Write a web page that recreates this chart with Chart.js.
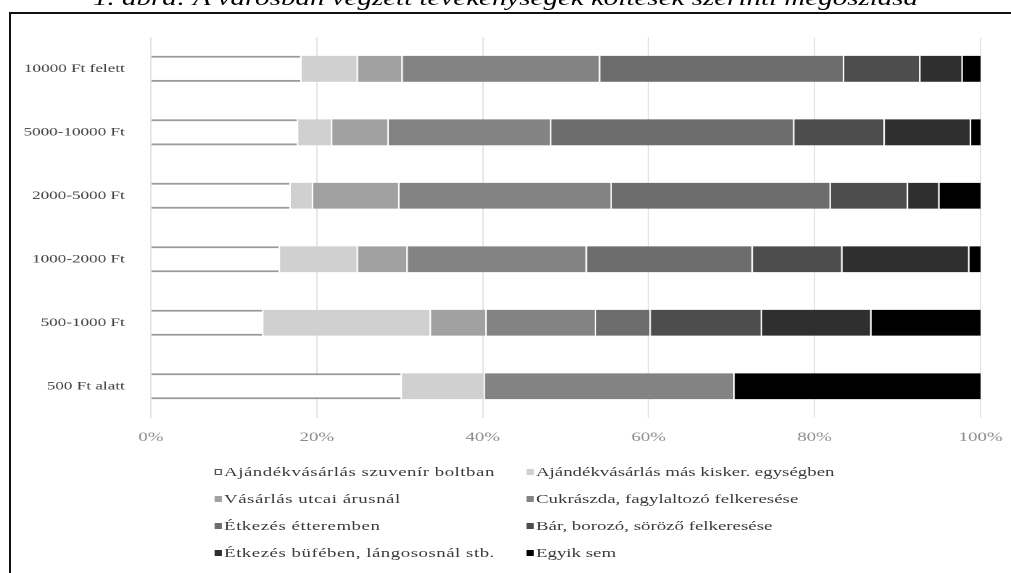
<!DOCTYPE html>
<html lang="hu">
<head>
<meta charset="utf-8">
<title>Tevékenységek költés szerint</title>
<script src="https://cdn.jsdelivr.net/npm/chart.js@4.4.1/dist/chart.umd.min.js"></script>
<style>
    html, body { margin: 0; padding: 0; background: #fff; }
    body { width: 1011px; height: 573px; overflow: hidden; position: relative; font-family: 'Liberation Serif', 'Times New Roman', serif; }
    /* the source picture is stretched sideways, so the whole figure is drawn narrow and scaled */
    #fig { position: absolute; left: 0; top: 0; width: 697px; height: 573px; transform: scaleX(1.4505); transform-origin: 0 0; }
    #frame { position: absolute; left: 9px; top: 12px; width: 1100px; height: 700px; border-top: 2px solid #111; border-left: 2px solid #111; }
    #title { position: absolute; left: 0; width: 697px; top: -12px; text-align: center; font-style: italic; font-size: 20px; line-height: 20px; color: #000; white-space: nowrap; }
    #chart-wrap { position: absolute; left: 0; top: 20px; width: 697px; height: 440px; }
    .lg-item { position: absolute; display: flex; align-items: center; font-size: 13px; color: #3a3a3a; white-space: nowrap; height: 16px; }
    .lg-item.left { letter-spacing: 0.35px; }
    .lg-box { width: 4.5px; height: 6px; margin-right: 2px; box-sizing: border-box; }
</style>
</head>
<body>
<div id="frame"></div>
<div id="fig">
    <div id="title">1. ábra: A városban végzett tevékenységek költések szerinti megoszlása</div>
    <div id="chart-wrap"><canvas id="chart"></canvas></div>
    <div id="legend"></div>
</div>
<script>
// categories, top to bottom
const categories = ['10000 Ft felett', '5000-10000 Ft', '2000-5000 Ft', '1000-2000 Ft', '500-1000 Ft', '500 Ft alatt'];
const xTicks = [0, 20, 40, 60, 80, 100];

// shares in percent, per series
const szuvenir = [18.0, 17.6, 16.7, 15.4, 13.4, 30.1];
const kisker = [6.8, 4.1, 2.7, 9.4, 20.2, 10.0];
const utcai = [5.4, 6.8, 10.4, 6.0, 6.7, 0];
const cukraszda = [23.8, 19.6, 25.6, 21.6, 13.2, 30.1];
const etterem = [29.4, 29.3, 26.4, 20.0, 6.6, 0];
const bar = [9.2, 10.9, 9.3, 10.8, 13.4, 0];
const bufe = [5.1, 10.4, 3.8, 15.3, 13.2, 0];
const egyikSem = [2.3, 1.3, 5.1, 1.5, 13.3, 29.8];

const seriesNames = [
    'Ajándékvásárlás szuvenír boltban',
    'Ajándékvásárlás más kisker. egységben',
    'Vásárlás utcai árusnál',
    'Cukrászda, fagylaltozó felkeresése',
    'Étkezés étteremben',
    'Bár, borozó, söröző felkeresése',
    'Étkezés büfében, lángososnál stb.',
    'Egyik sem',
];
const seriesValues = [szuvenir, kisker, utcai, cukraszda, etterem, bar, bufe, egyikSem];
const seriesColors = ['#ffffff', '#d0d0d0', '#a1a1a1', '#838383', '#6d6d6d', '#4d4d4d', '#2f2f2f', '#000000'];

const FONT = "'Liberation Serif', 'Times New Roman', serif";

const datasets = seriesNames.map((name, i) => {
    const first = i === 0;
    return {
        label: name,
        data: seriesValues[i],
        backgroundColor: seriesColors[i],
        borderColor: first ? '#9a9a9a' : 'rgba(255,255,255,0.55)',
        borderWidth: first ? { top: 2, bottom: 2, left: 0, right: 0 } : { top: 0, bottom: 0, left: 1, right: 0 },
        borderSkipped: false,
        barPercentage: 0.41,
        categoryPercentage: 1,
    };
});

const chart = new Chart(document.getElementById('chart'), {
    type: 'bar',
    data: { labels: categories, datasets },
    options: {
        indexAxis: 'y',
        responsive: true,
        maintainAspectRatio: false,
        animation: false,
        devicePixelRatio: 2,
        layout: { padding: { top: 14, right: 21, left: 0, bottom: 0 } },
        plugins: {
            legend: { display: false },
            tooltip: { enabled: false },
        },
        scales: {
            x: {
                stacked: true,
                min: 0,
                max: 100,
                afterBuildTicks: scale => { scale.ticks = xTicks.map(v => ({ value: v })); },
                afterFit: scale => {
                    scale.height = 42;
                    scale.paddingLeft = 0;
                    scale.paddingRight = 0;
                },
                grid: { color: '#e4e4e4', lineWidth: 1, drawTicks: false },
                border: { display: false },
                ticks: {
                    padding: 12,
                    color: '#8c8c8c',
                    font: { family: FONT, size: 13 },
                    callback: v => v + '%',
                },
            },
            y: {
                stacked: true,
                afterFit: scale => { scale.width = 104; },
                grid: { display: false },
                border: { display: false },
                ticks: {
                    padding: 10,
                    color: '#404040',
                    font: { family: FONT, size: 11.8 },
                },
            },
        },
    },
});

// two-column legend under the chart
const legend = document.getElementById('legend');
const colLeft = [148, 363];
const rowTop = [472, 499, 526, 553];
chart.data.datasets.forEach((ds, i) => {
    const item = document.createElement('div');
    item.className = 'lg-item' + (i % 2 === 0 ? ' left' : '');
    item.style.left = colLeft[i % 2] + 'px';
    item.style.top = (rowTop[Math.floor(i / 2)] - 8) + 'px';
    const box = document.createElement('span');
    box.className = 'lg-box';
    box.style.background = ds.backgroundColor;
    if (i === 0) box.style.border = '1px solid #555';
    const txt = document.createElement('span');
    txt.textContent = ds.label;
    item.appendChild(box);
    item.appendChild(txt);
    legend.appendChild(item);
});
</script>
</body>
</html>
